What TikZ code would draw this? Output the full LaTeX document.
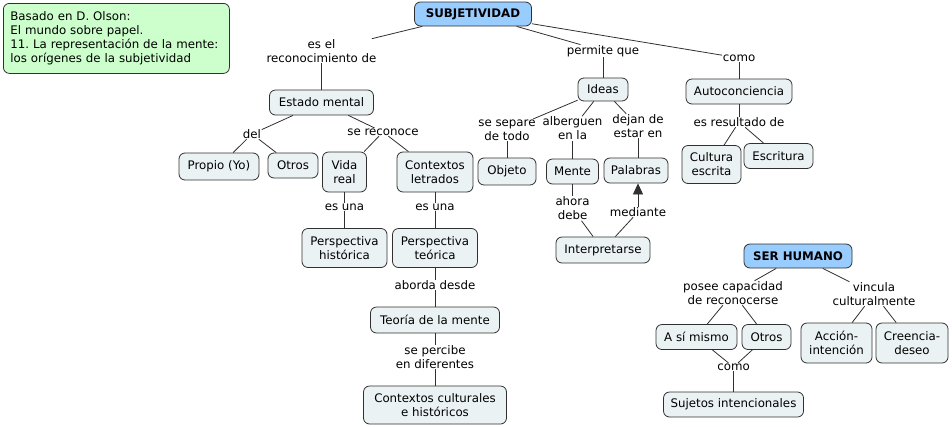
\documentclass[tikz,border=0pt]{standalone}
\usepackage{fontspec}
\setmainfont{DejaVu Sans}
\usetikzlibrary{arrows.meta}
\definecolor{nodefill}{HTML}{EBF2F4}
\definecolor{mainblue}{HTML}{99CCFF}
\definecolor{notegreen}{HTML}{CCFFCC}
\definecolor{edgegray}{HTML}{303030}
\frenchspacing
\begin{document}
\begin{tikzpicture}[x=1pt,y=-1pt,
  concept/.style={draw=edgegray, fill=nodefill, rounded corners=6pt, line width=0.8pt, align=center, inner sep=0pt, font=\fontsize{11.8}{14}\selectfont},
  sz/.style 2 args={minimum width=#1pt, minimum height=#2pt},
  mainc/.style={concept, fill=mainblue, font=\fontsize{11.8}{14}\selectfont\bfseries},
  lbl/.style={align=center, inner sep=0.5pt, font=\fontsize{11.8}{14}\selectfont},
  conn/.style={draw=edgegray, line width=0.8pt}]
\useasboundingbox (0,0) rectangle (952,426);

% note
\node[concept, fill=notegreen, anchor=north west, align=left, text width=212pt, inner xsep=7pt, minimum height=70pt] (olson) at (3,3)
  {Basado en D. Olson:\\El mundo sobre papel.\\11. La representación de la mente:\\los orígenes de la subjetividad};

% concepts
\node[mainc, sz={117}{24}] (subj) at (473,14) {SUBJETIVIDAD};
\node[concept, sz={104}{25}] (estado) at (321.5,102.5) {Estado mental};
\node[concept, sz={80}{27}] (propio) at (219,166.5) {Propio (Yo)};
\node[concept, sz={50}{25}] (otros1) at (293,165.5) {Otros};
\node[concept, sz={44}{40}] (vida) at (344.5,172) {Vida\\real};
\node[concept, sz={76}{40}] (ctxlet) at (435,172) {Contextos\\letrados};
\node[concept, sz={58}{27}] (objeto) at (507,171.5) {Objeto};
\node[concept, sz={52}{25}] (mente) at (572.5,171.5) {Mente};
\node[concept, sz={64}{25}] (palabras) at (636,170.5) {Palabras};
\node[concept, sz={50}{23}] (ideas) at (603,89.5) {Ideas};
\node[concept, sz={106}{25}] (auto) at (739,91.5) {Autoconciencia};
\node[concept, sz={59}{38}] (cultura) at (711.5,164.5) {Cultura\\escrita};
\node[concept, sz={69}{25}] (escritura) at (778.5,156) {Escritura};
\node[concept, sz={85}{39}] (perhist) at (344.5,248) {Perspectiva\\histórica};
\node[concept, sz={85}{39}] (perteo) at (435,248) {Perspectiva\\teórica};
\node[concept, sz={129}{26}] (teoria) at (435,320) {Teoría de la mente};
\node[concept, sz={143}{38}] (ctxcult) at (435,405) {Contextos culturales\\e históricos};
\node[concept, sz={94}{26}] (interp) at (603,250) {Interpretarse};
\node[mainc, sz={108}{24}] (serh) at (798,256) {SER HUMANO};
\node[concept, sz={81}{25}] (asimismo) at (696.5,337) {A sí mismo};
\node[concept, sz={49}{25}] (otros2) at (766.5,337) {Otros};
\node[concept, sz={71}{40}] (accion) at (836.5,343) {Acción-\\intención};
\node[concept, sz={72}{40}] (creencia) at (912,343) {Creencia-\\deseo};
\node[concept, sz={140}{25}] (sujetos) at (733.5,404.5) {Sujetos intencionales};

% linking phrases
\node[lbl] (lEs) at (321.5,51) {es el\\reconocimiento de};
\node[lbl] (lPermite) at (603,51) {permite que};
\node[lbl] (lComo1) at (739,58) {como};
\node[lbl] (lDel) at (252,134) {del};
\node[lbl] (lSeRec) at (383,132) {se reconoce};
\node[lbl] (lSepare) at (507,130) {se separe\\de todo};
\node[lbl] (lAlberguen) at (572.5,128.5) {alberguen\\en la};
\node[lbl] (lDejan) at (638,126) {dejan de\\estar en};
\node[lbl] (lResult) at (739,122) {es resultado de};
\node[lbl] (lEsUna1) at (344.5,207) {es una};
\node[lbl] (lEsUna2) at (435,207) {es una};
\node[lbl] (lAborda) at (435,285) {aborda desde};
\node[lbl] (lSePerc) at (435,357) {se percibe\\en diferentes};
\node[lbl] (lAhora) at (572.5,208.5) {ahora\\debe};
\node[lbl] (lMed) at (638,212) {mediante};
\node[lbl] (lPosee) at (733,293) {posee capacidad\\de reconocerse};
\node[lbl] (lVincula) at (874,294) {vincula\\culturalmente};
\node[lbl] (lComo2) at (733.5,367) {como};

% connectors
\draw[conn] (subj) -- (lEs);
\draw[conn] (lEs) -- (estado);
\draw[conn] (subj) -- (lPermite);
\draw[conn] (lPermite) -- (ideas);
\draw[conn] (subj) -- (lComo1);
\draw[conn] (lComo1) -- (auto);
\draw[conn] (estado) -- (lDel);
\draw[conn] (lDel) -- (propio);
\draw[conn] (lDel) -- (otros1);
\draw[conn] (estado) -- (lSeRec);
\draw[conn] (lSeRec) -- (vida);
\draw[conn] (lSeRec) -- (ctxlet);
\draw[conn] (vida) -- (lEsUna1);
\draw[conn] (lEsUna1) -- (perhist);
\draw[conn] (ctxlet) -- (lEsUna2);
\draw[conn] (lEsUna2) -- (perteo);
\draw[conn] (perteo) -- (lAborda);
\draw[conn] (lAborda) -- (teoria);
\draw[conn] (teoria) -- (lSePerc);
\draw[conn] (lSePerc) -- (ctxcult);
\draw[conn] (ideas) -- (lSepare);
\draw[conn] (lSepare) -- (objeto);
\draw[conn] (ideas) -- (lAlberguen);
\draw[conn] (lAlberguen) -- (mente);
\draw[conn] (ideas) -- (lDejan);
\draw[conn] (lDejan) -- (lDejan |- palabras.north);
\draw[conn] (mente) -- (lAhora);
\draw[conn] (lAhora) -- (interp);
\draw[conn] (interp) -- (lMed);
\draw[conn, -{Triangle[length=11pt,width=10pt]}] (lMed) -- (lMed |- palabras.south);
\draw[conn] (auto) -- (lResult);
\draw[conn] (lResult) -- (cultura);
\draw[conn] (lResult) -- (escritura);
\draw[conn] (serh) -- (lPosee);
\draw[conn] (lPosee) -- (asimismo);
\draw[conn] (lPosee) -- (otros2);
\draw[conn] (serh) -- (lVincula);
\draw[conn] (lVincula) -- (accion);
\draw[conn] (lVincula) -- (creencia);
\draw[conn] (asimismo) -- (lComo2);
\draw[conn] (otros2) -- (lComo2);
\draw[conn] (lComo2) -- (sujetos);
\end{tikzpicture}
\end{document}
